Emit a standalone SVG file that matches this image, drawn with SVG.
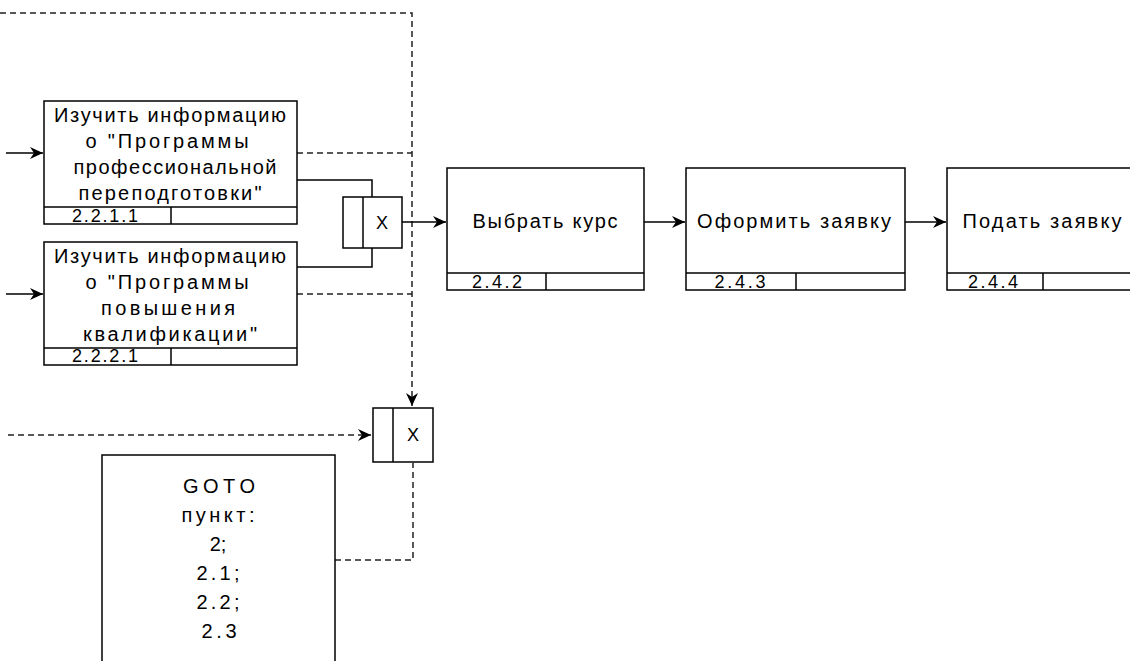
<svg xmlns="http://www.w3.org/2000/svg" width="1130" height="661" viewBox="0 0 1130 661">
<style>
.box{fill:#fff;stroke:#000;stroke-width:1.5}
.ln{fill:none;stroke:#000;stroke-width:1.5}
.ds{fill:none;stroke:#222;stroke-width:1.5;stroke-dasharray:6 4}
.t{font-family:"Liberation Sans",Arial,sans-serif;font-size:20px;fill:#000;text-anchor:middle}
.n{font-family:"Liberation Sans",Arial,sans-serif;font-size:18px;fill:#000;text-anchor:middle}
.x{font-family:"Liberation Sans",Arial,sans-serif;font-size:18px;fill:#000;text-anchor:middle}
</style>
<defs>
<marker id="ah" markerUnits="userSpaceOnUse" markerWidth="14" markerHeight="12" refX="13" refY="6" orient="auto">
<path d="M0,0 L13,6 L0,12 L4,6 z" fill="#000"/>
</marker>
</defs>
<rect width="1130" height="661" fill="#fff"/>
<g id="connectors">
<path class="ds" d="M0,13 H412 V406" marker-end="url(#ah)"/>
<path class="ds" d="M297,153 H412"/>
<path class="ds" d="M297,294 H412"/>
<path class="ds" d="M8,435 H371" marker-end="url(#ah)"/>
<path class="ds" d="M335,560 H413 V463"/>
<path class="ln" d="M6,153 H43" marker-end="url(#ah)"/>
<path class="ln" d="M6,294 H43" marker-end="url(#ah)"/>
<path class="ln" d="M297,180 H372 V197"/>
<path class="ln" d="M297,267 H372 V248"/>
<path class="ln" d="M402,222 H446" marker-end="url(#ah)"/>
<path class="ln" d="M644,222 H685" marker-end="url(#ah)"/>
<path class="ln" d="M905,222 H946" marker-end="url(#ah)"/>
</g>
<g id="node-2.2.1.1">
<rect class="box" x="44" y="101" width="253" height="123"/>
<path class="ln" d="M44,207 H297 M171,207 V224"/>
<text class="t" x="170" y="122" textLength="232" lengthAdjust="spacing">Изучить информацию</text>
<text class="t" x="167" y="148" textLength="163" lengthAdjust="spacing">о "Программы</text>
<text class="t" x="175" y="174" textLength="203" lengthAdjust="spacing">профессиональной</text>
<text class="t" x="170" y="200" textLength="183" lengthAdjust="spacing">переподготовки"</text>
<text class="n" x="105" y="222" textLength="66" lengthAdjust="spacing">2.2.1.1</text>
</g>
<g id="node-2.2.2.1">
<rect class="box" x="44" y="242" width="253" height="123"/>
<path class="ln" d="M44,348 H297 M171,348 V365"/>
<text class="t" x="170" y="263" textLength="232" lengthAdjust="spacing">Изучить информацию</text>
<text class="t" x="167" y="289" textLength="163" lengthAdjust="spacing">о "Программы</text>
<text class="t" x="168" y="315" textLength="134" lengthAdjust="spacing">повышения</text>
<text class="t" x="170" y="341" textLength="174" lengthAdjust="spacing">квалификации"</text>
<text class="n" x="105" y="362" textLength="66" lengthAdjust="spacing">2.2.2.1</text>
</g>
<g id="junction-x1">
<rect class="box" x="343" y="197" width="59" height="51"/>
<path class="ln" d="M363,197 V248"/>
<text class="x" x="382" y="229">X</text>
</g>
<g id="junction-x2">
<rect class="box" x="373" y="408" width="60" height="54"/>
<path class="ln" d="M393,408 V462"/>
<text class="x" x="413" y="441">X</text>
</g>
<g id="node-2.4.2">
<rect class="box" x="447" y="168" width="197" height="122"/>
<path class="ln" d="M447,273 H644 M546,273 V290"/>
<text class="t" x="545" y="228" textLength="145" lengthAdjust="spacing">Выбрать курс</text>
<text class="n" x="497" y="288" textLength="50" lengthAdjust="spacing">2.4.2</text>
</g>
<g id="node-2.4.3">
<rect class="box" x="686" y="168" width="219" height="122"/>
<path class="ln" d="M686,273 H905 M796,273 V290"/>
<text class="t" x="794" y="228" textLength="194" lengthAdjust="spacing">Оформить заявку</text>
<text class="n" x="740" y="288" textLength="51" lengthAdjust="spacing">2.4.3</text>
</g>
<g id="node-2.4.4">
<rect class="box" x="947" y="168" width="200" height="122"/>
<path class="ln" d="M947,273 H1147 M1043,273 V290"/>
<text class="t" x="1042" y="228" textLength="159" lengthAdjust="spacing">Подать заявку</text>
<text class="n" x="993" y="288" textLength="50" lengthAdjust="spacing">2.4.4</text>
</g>
<g id="node-goto">
<rect class="box" x="102" y="455" width="233" height="220"/>
<text class="t" x="219" y="493" textLength="72" lengthAdjust="spacing">GOTO</text>
<text class="t" x="218" y="522" textLength="73" lengthAdjust="spacing">пункт:</text>
<text class="t" x="218" y="551">2;</text>
<text class="t" x="218" y="580" textLength="43" lengthAdjust="spacing">2.1;</text>
<text class="t" x="218" y="609" textLength="43" lengthAdjust="spacing">2.2;</text>
<text class="t" x="219" y="638" textLength="35" lengthAdjust="spacing">2.3</text>
</g>
</svg>
